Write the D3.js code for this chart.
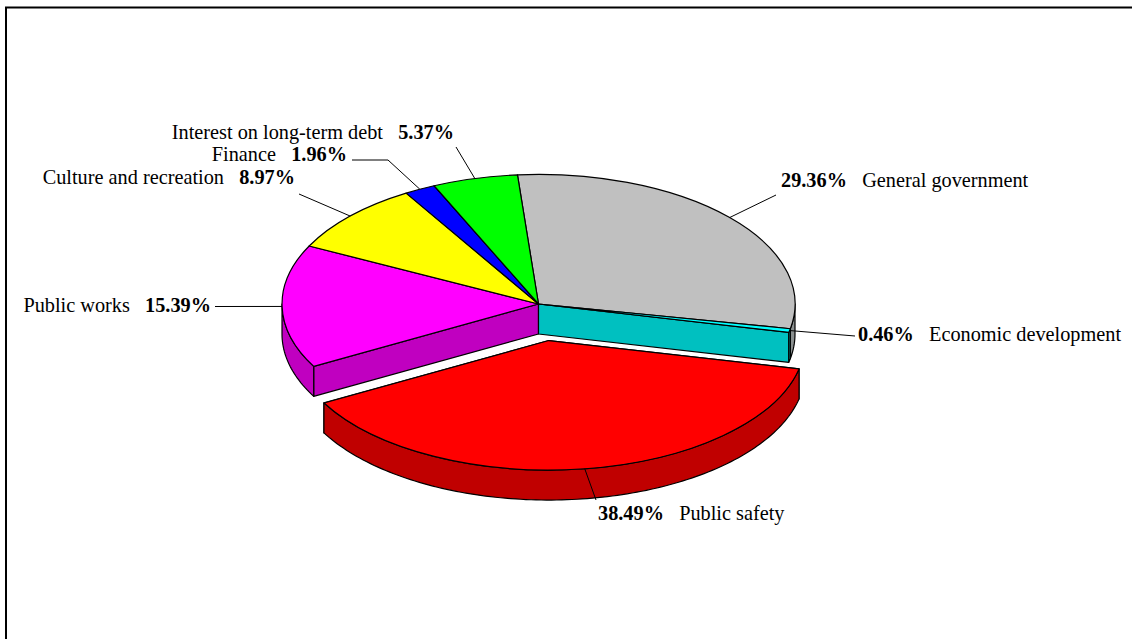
<!DOCTYPE html>
<html><head><meta charset="utf-8">
<script src="https://cdn.jsdelivr.net/npm/d3@7/dist/d3.min.js"></script>
<style>html,body{margin:0;background:#fff}svg{display:block}text{font-family:"Liberation Serif",serif;font-size:20.3px;fill:#000}</style>
</head><body><svg id="c" width="1132" height="639"></svg>
<script>
const categories=["General government","Economic development","Public safety","Public works","Culture and recreation","Finance","Interest on long-term debt"];
const shares=[29.36,0.46,38.49,15.39,8.97,1.96,5.37];
const shareLabels=["29.36%","0.46%","38.49%","15.39%","8.97%","1.96%","5.37%"];
const topColors=["#c0c0c0","#00ffff","#ff0000","#ff00ff","#ffff00","#0000ff","#00ff00"];
const sideColors=["#8a8f8f","#00c0c0","#c00000","#c000c0","#c0c000","#0000c0","#00c000"];
const exploded=[0,0,0.285,0,0,0,0];
// label layout: [x, baseline, anchor, pctFirst], leader elbow points follow
const labelPos=[[781,187,"start",true],[858,341,"start",true],[598,520,"start",true],[211,312,"end",false],[295,184,"end",false],[347,161,"end",false],[454,139,"end",false]];
const leaders=[[[776,195]],[[855,336]],[[596,500]],[[215,306.5]],[[299,194]],[[388,160],[352,160]],[[456,147]]];

const cx=538.5,cy=304,rx=256.5,ry=129.5,depth=30,startA=-4.7*Math.PI/180;
const svg=d3.select("#c");
svg.append("path").attr("d","M6,639V7.5H1132").attr("fill","none").attr("stroke","#000").attr("stroke-width",2);

const pie=d3.pie().sort(null).startAngle(startA).endAngle(startA+2*Math.PI);
const arcs=pie(shares);
const X=d3.scaleLinear().domain([-1,1]).range([cx-rx,cx+rx]);
const Y=d3.scaleLinear().domain([-1,1]).range([cy-ry,cy+ry]);
const arcGen=d3.arc().innerRadius(0).outerRadius(1);
const offset=(a,i)=>{const m=(a.startAngle+a.endAngle)/2;return [exploded[i]*Math.sin(m),-exploded[i]*Math.cos(m)];};
const pt=(t,o,dz=0)=>[X(o[0]+Math.sin(t)),Y(o[1]-Math.cos(t))+dz];
const line=d3.line().curve(d3.curveLinear);
function st(s){return s.attr("stroke","#000").attr("stroke-width",1.2).attr("stroke-linejoin","round");}

function rimSamples(a0,a1){const n=Math.max(2,Math.ceil((a1-a0)/0.02));return d3.range(n+1).map(k=>a0+(a1-a0)*k/n);}
function wall(a,i,t){const o=offset(a,i);const c0=[X(o[0]),Y(o[1])];const e=pt(t,o);
  st(svg.append("path").attr("d",line([c0,e,[e[0],e[1]+depth],[c0[0],c0[1]+depth]])+"Z").attr("fill",sideColors[i]));}
function rim(a,i){const o=offset(a,i);
  const lo=Math.max(a.startAngle,Math.PI/2),hi=Math.min(a.endAngle,1.5*Math.PI);
  if(hi<=lo)return;
  const s=rimSamples(lo,hi);
  const pts=s.map(t=>pt(t,o)).concat(s.slice().reverse().map(t=>pt(t,o,depth)));
  st(svg.append("path").attr("d",line(pts)+"Z").attr("fill",sideColors[i]));}
function topFace(a,i){const o=offset(a,i);
  st(svg.append("path").attr("d",arcGen(a))
   .attr("transform",`translate(${X(o[0])},${Y(o[1])}) scale(${rx},${ry})`)
   .attr("vector-effect","non-scaling-stroke").attr("fill",topColors[i]));}

const back=[0,1,3,4,5,6];
wall(arcs[3],3,arcs[3].startAngle);
wall(arcs[1],1,arcs[1].endAngle);
rim(arcs[0],0);rim(arcs[1],1);rim(arcs[3],3);
back.forEach(i=>topFace(arcs[i],i));

wall(arcs[2],2,arcs[2].startAngle);
wall(arcs[2],2,arcs[2].endAngle);
rim(arcs[2],2);
topFace(arcs[2],2);

arcs.forEach((a,i)=>{
  const m=(a.startAngle+a.endAngle)/2,o=offset(a,i);
  svg.append("path").attr("d",line([pt(m,o)].concat(leaders[i]))).attr("fill","none").attr("stroke","#000").attr("stroke-width",1);
  const [x,y,anc,pctFirst]=labelPos[i];
  const t=svg.append("text").attr("x",x).attr("y",y).attr("text-anchor",anc).style("white-space","pre");
  if(pctFirst){t.append("tspan").attr("font-weight","bold").text(shareLabels[i]);t.append("tspan").text("   "+categories[i]);}
  else{t.append("tspan").text(categories[i]+"   ");t.append("tspan").attr("font-weight","bold").text(shareLabels[i]);}
});
</script></body></html>
